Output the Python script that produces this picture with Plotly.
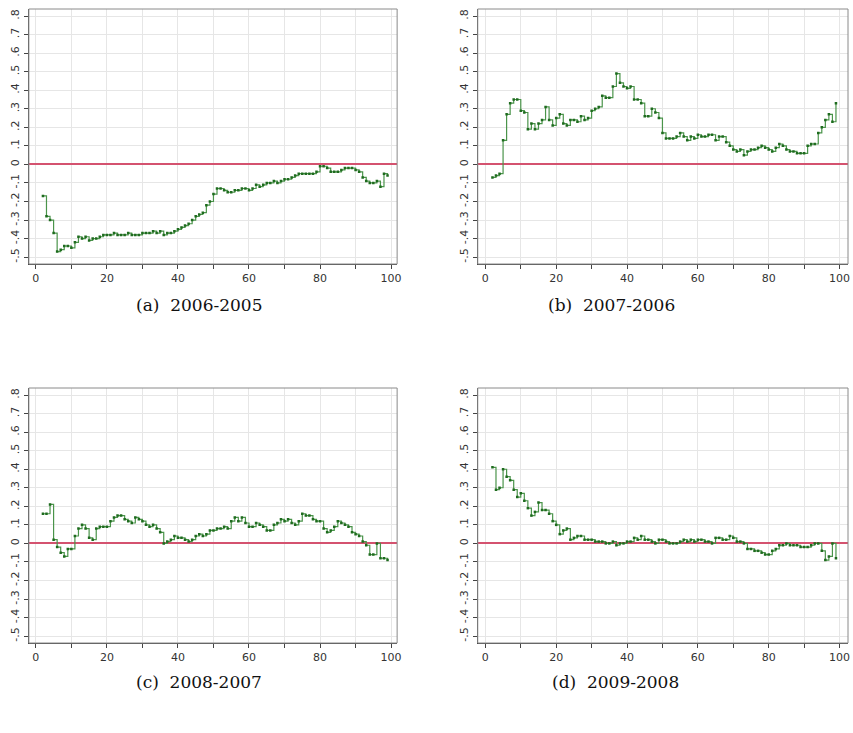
import plotly.graph_objects as go

x_pct = list(range(2, 100))

diff_2006_2005 = [
    -0.17, -0.28, -0.30, -0.37, -0.47, -0.46, -0.44, -0.44, -0.45, -0.42,
    -0.39, -0.40, -0.39, -0.41, -0.40, -0.40, -0.39, -0.38, -0.38, -0.38,
    -0.37, -0.38, -0.38, -0.38, -0.37, -0.38, -0.38, -0.38, -0.37, -0.37,
    -0.37, -0.36, -0.37, -0.36, -0.38, -0.37, -0.37, -0.36, -0.35, -0.34,
    -0.33, -0.32, -0.30, -0.28, -0.27, -0.26, -0.22, -0.20, -0.16, -0.13,
    -0.13, -0.14, -0.15, -0.15, -0.14, -0.14, -0.13, -0.13, -0.14, -0.13,
    -0.11, -0.12, -0.11, -0.10, -0.10, -0.09, -0.10, -0.09, -0.08, -0.08,
    -0.07, -0.06, -0.05, -0.05, -0.05, -0.05, -0.05, -0.04, -0.01, -0.01,
    -0.02, -0.04, -0.04, -0.04, -0.03, -0.02, -0.02, -0.02, -0.03, -0.04,
    -0.07, -0.09, -0.10, -0.10, -0.09, -0.12, -0.05, -0.06,
]

diff_2007_2006 = [
    -0.07, -0.06, -0.05, 0.13, 0.27, 0.33, 0.35, 0.35, 0.29, 0.28,
    0.19, 0.22, 0.19, 0.22, 0.24, 0.31, 0.24, 0.21, 0.25, 0.27,
    0.22, 0.21, 0.24, 0.24, 0.23, 0.26, 0.24, 0.25, 0.29, 0.30,
    0.31, 0.37, 0.36, 0.36, 0.42, 0.49, 0.44, 0.42, 0.41, 0.42,
    0.35, 0.35, 0.33, 0.26, 0.26, 0.30, 0.28, 0.25, 0.17, 0.14,
    0.14, 0.14, 0.15, 0.17, 0.15, 0.13, 0.15, 0.14, 0.16, 0.15,
    0.15, 0.16, 0.16, 0.13, 0.15, 0.15, 0.12, 0.10, 0.08, 0.07,
    0.08, 0.05, 0.07, 0.08, 0.08, 0.09, 0.10, 0.09, 0.08, 0.07,
    0.09, 0.11, 0.10, 0.08, 0.07, 0.07, 0.06, 0.06, 0.06, 0.10,
    0.11, 0.11, 0.17, 0.20, 0.24, 0.27, 0.23, 0.33,
]

diff_2008_2007 = [
    0.16, 0.16, 0.21, 0.02, -0.02, -0.05, -0.07, -0.03, -0.03, 0.04,
    0.08, 0.10, 0.08, 0.03, 0.02, 0.08, 0.09, 0.09, 0.09, 0.12,
    0.14, 0.15, 0.15, 0.13, 0.12, 0.11, 0.14, 0.13, 0.12, 0.10,
    0.09, 0.10, 0.08, 0.06, 0.00, 0.01, 0.02, 0.04, 0.03, 0.03,
    0.02, 0.01, 0.02, 0.04, 0.05, 0.04, 0.05, 0.07, 0.07, 0.08,
    0.08, 0.09, 0.08, 0.12, 0.14, 0.12, 0.14, 0.11, 0.09, 0.09,
    0.11, 0.10, 0.09, 0.07, 0.07, 0.10, 0.11, 0.13, 0.12, 0.13,
    0.11, 0.10, 0.12, 0.16, 0.15, 0.15, 0.13, 0.12, 0.12, 0.08,
    0.06, 0.07, 0.09, 0.12, 0.11, 0.10, 0.09, 0.06, 0.05, 0.04,
    0.01, -0.01, -0.06, -0.06, 0.00, -0.08, -0.08, -0.09,
]

diff_2009_2008 = [
    0.41, 0.29, 0.30, 0.40, 0.36, 0.34, 0.29, 0.25, 0.27, 0.23,
    0.19, 0.15, 0.17, 0.22, 0.18, 0.18, 0.16, 0.12, 0.10, 0.05,
    0.07, 0.08, 0.02, 0.03, 0.04, 0.04, 0.02, 0.02, 0.02, 0.01,
    0.01, 0.01, 0.00, 0.00, 0.01, -0.01, 0.00, 0.00, 0.01, 0.01,
    0.03, 0.02, 0.04, 0.02, 0.02, 0.01, 0.00, 0.02, 0.02, 0.01,
    0.00, 0.00, 0.00, 0.01, 0.02, 0.01, 0.02, 0.01, 0.02, 0.02,
    0.01, 0.01, 0.00, 0.03, 0.03, 0.02, 0.02, 0.04, 0.03, 0.01,
    0.01, 0.00, -0.03, -0.03, -0.04, -0.04, -0.05, -0.06, -0.06, -0.04,
    -0.03, -0.01, -0.01, 0.00, -0.01, -0.01, -0.01, -0.02, -0.02, -0.02,
    -0.01, 0.00, 0.00, -0.04, -0.09, -0.07, 0.00, -0.08,
]

captions = ["(a)  2006-2005", "(b)  2007-2006", "(c)  2008-2007", "(d)  2009-2008"]
series = [diff_2006_2005, diff_2007_2006, diff_2008_2007, diff_2009_2008]

x_tickvals = list(range(0, 101, 10))
x_ticktext = [str(v) if v % 20 == 0 else "" for v in x_tickvals]
y_tickvals = [round(-0.5 + 0.1 * i, 1) for i in range(14)]
def ylab(v):
    if v == 0:
        return "0"
    s = f"{abs(v):.1f}".lstrip("0")
    return ("-" if v < 0 else "") + s
y_ticktext = [ylab(v) for v in y_tickvals]

W, H = 853, 733
# panel pixel boxes: (left, top, right, bottom)
boxes = [(29, 9, 399, 264), (480, 9, 852, 264), (29, 388, 399, 643), (480, 388, 852, 643)]
xranges = [[-1.96, 101.7], [-2.15, 102.4], [-1.96, 101.7], [-2.15, 102.4]]
yrange = [-0.537, 0.838]
caption_pos = [(200, 305), (614, 305), (200, 682), (618, 682)]

fig = go.Figure()
layout = dict(
    width=W, height=H, margin=dict(l=0, r=0, t=0, b=0),
    paper_bgcolor="white", plot_bgcolor="white", showlegend=False,
    font=dict(family="DejaVu Sans, Verdana, sans-serif", size=11, color="#333"),
)
shapes = []
annotations = []
for i, (vals, box) in enumerate(zip(series, boxes)):
    n = i + 1
    xa = "x" if n == 1 else f"x{n}"
    ya = "y" if n == 1 else f"y{n}"
    L, T, R, B = box
    layout[f"xaxis{'' if n == 1 else n}"] = dict(
        domain=[L / W, R / W], anchor=ya, range=xranges[i],
        tickvals=x_tickvals, ticktext=x_ticktext, ticks="outside", ticklen=4,
        tickcolor="#444", showgrid=True, gridcolor="#e6e6e6", gridwidth=1,
        showline=True, linecolor="#444", linewidth=1.2, zeroline=False,
        tickfont=dict(size=11, color="#333"), fixedrange=True,
    )
    layout[f"yaxis{'' if n == 1 else n}"] = dict(
        domain=[1 - B / H, 1 - T / H], anchor=xa, range=yrange,
        tickvals=y_tickvals, ticktext=y_ticktext, ticks="outside", ticklen=4,
        tickcolor="#444", tickangle=-90, showgrid=True, gridcolor="#e6e6e6",
        gridwidth=1, showline=True, linecolor="#444", linewidth=1.2,
        zeroline=True, zerolinecolor="#d4526f", zerolinewidth=1.5,
        tickfont=dict(size=11, color="#333"), fixedrange=True,
    )
    # light frame top/right
    shapes.append(dict(type="rect", xref=f"{xa} domain", yref=f"{ya} domain",
                       x0=0, x1=1, y0=0, y1=1, line=dict(color="#8a8a8a", width=1),
                       layer="above"))
    fig.add_trace(go.Scatter(
        x=x_pct, y=vals, xaxis=xa, yaxis=ya, mode="lines+markers",
        line=dict(color="#4a944a", width=1.2, shape="hv"),
        marker=dict(symbol="square", size=2.5, color="#1e6b1e"),
        hoverinfo="x+y",
    ))
    cx, cy = caption_pos[i]
    annotations.append(dict(text=captions[i], x=cx / W, y=1 - cy / H, xref="paper",
                            yref="paper", showarrow=False, xanchor="center",
                            yanchor="middle",
                            font=dict(family="DejaVu Serif, Liberation Serif, serif",
                                      size=17, color="#111")))
layout["shapes"] = shapes
layout["annotations"] = annotations
fig.update_layout(**layout)
fig.write_html("out.html")
